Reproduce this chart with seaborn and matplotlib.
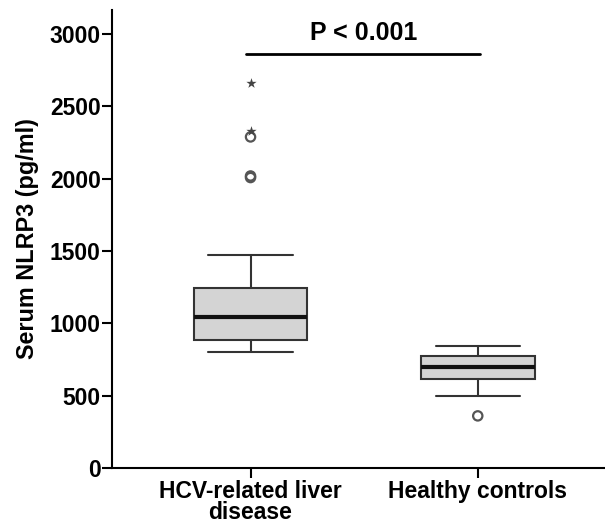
import numpy as np
import pandas as pd
import seaborn as sns
import matplotlib.pyplot as plt

groups = ['HCV-related liver\ndisease', 'Healthy controls']
whislo = [804, 499]
q1 = [887, 612]
med = [1041, 695]
q3 = [1242, 776]
whishi = [1474, 843]

# outliers (SPSS style: circles = outliers, stars = extremes)
out_group = [0, 0, 0, 0, 0, 1]
out_value = [2659, 2330, 2289, 2019, 2008, 360]
out_kind = ['extreme', 'extreme', 'outlier', 'outlier', 'outlier', 'outlier']

sns.set_style('ticks')
plt.rcParams['font.family'] = ['Liberation Sans', 'DejaVu Sans']
plt.rcParams['font.weight'] = 'bold'
plt.rcParams['text.color'] = 'black'
plt.rcParams['axes.labelcolor'] = 'black'
plt.rcParams['xtick.color'] = 'black'
plt.rcParams['ytick.color'] = 'black'
plt.rcParams['axes.edgecolor'] = 'black'

fig = plt.figure(figsize=(6.05, 5.24), dpi=100)
ax = fig.add_axes([0.185, 0.107, 0.815, 0.874])

stats = []
for i in range(len(groups)):
    stats.append({'whislo': whislo[i], 'q1': q1[i], 'med': med[i],
                  'q3': q3[i], 'whishi': whishi[i], 'fliers': []})

ax.bxp(stats, positions=range(len(groups)), widths=0.5, patch_artist=True,
       showfliers=False,
       boxprops=dict(facecolor='#d4d4d4', edgecolor='#333333', linewidth=1.5),
       medianprops=dict(color='#111111', linewidth=3),
       whiskerprops=dict(color='#333333', linewidth=1.5),
       capprops=dict(color='#333333', linewidth=1.5),
       capwidths=0.37)

outs = pd.DataFrame({'group': out_group, 'value': out_value, 'kind': out_kind})
sns.scatterplot(data=outs[outs['kind'] == 'outlier'], x='group', y='value',
                marker='o', facecolor='none', edgecolor='#555555',
                linewidth=1.6, s=45, legend=False, ax=ax, zorder=5)
sns.scatterplot(data=outs[outs['kind'] == 'extreme'], x='group', y='value',
                marker='*', color='#444444', s=60, linewidth=0,
                legend=False, ax=ax, zorder=6)

ax.set_xlim(-0.61, 1.56)
ax.set_ylim(0, 3167)
ax.set_xticks(range(len(groups)))
ax.set_xticklabels(groups, fontsize=16.5, fontweight='bold', linespacing=0.85)
ax.set_yticks([0, 500, 1000, 1500, 2000, 2500, 3000])
ax.tick_params(axis='y', labelsize=16.5, width=1.5, length=7, pad=1)
ax.tick_params(axis='x', width=1.5, length=7, pad=2)
ax.set_xlabel('')
ax.set_ylabel('Serum NLRP3 (pg/ml)', fontsize=16.8, fontweight='bold', labelpad=8)
for lab in ax.get_yticklabels():
    lab.set_fontweight('bold')

sns.despine(ax=ax)
ax.spines['left'].set_linewidth(1.5)
ax.spines['bottom'].set_linewidth(1.5)

ax.plot([-0.02, 1.01], [2865, 2865], color='black', linewidth=2)
ax.text(0.5, 2925, 'P < 0.001', ha='center', va='bottom', fontsize=18,
        fontweight='bold')

fig.savefig('out.png', dpi=100)
